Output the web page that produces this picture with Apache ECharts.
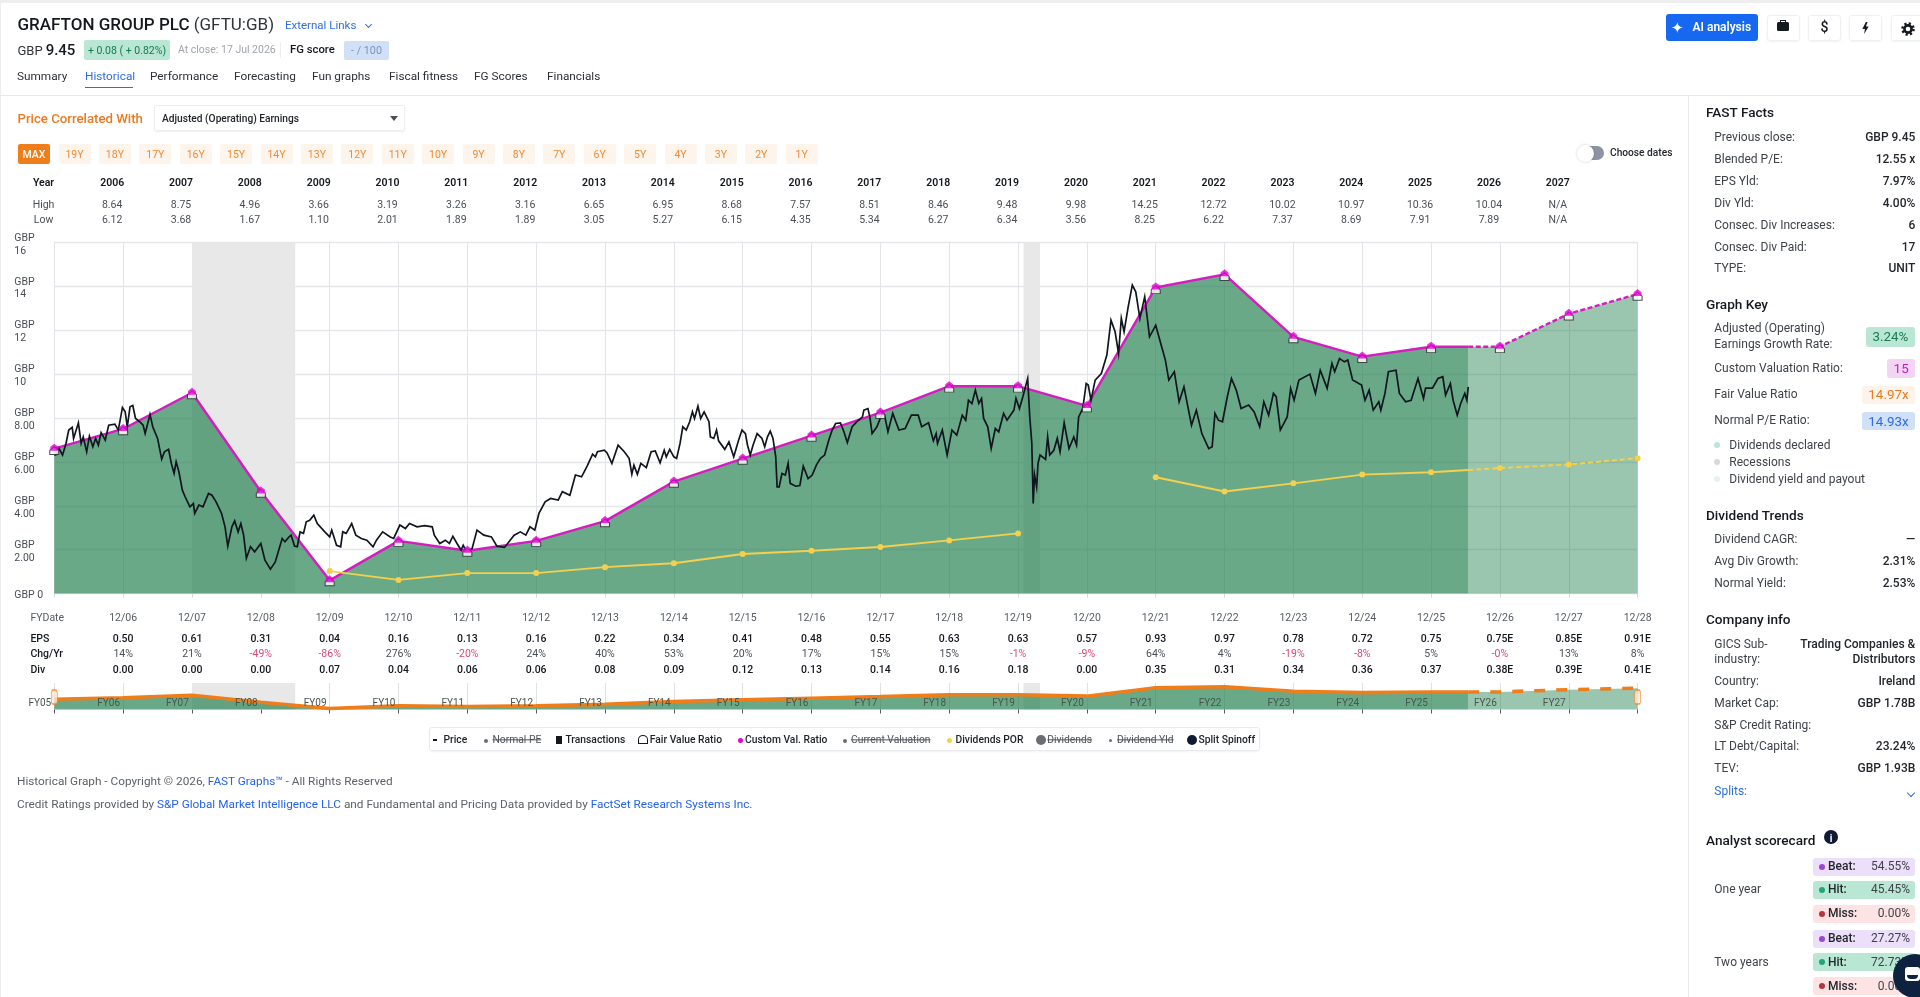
<!DOCTYPE html>
<html><head><meta charset="utf-8"><title>Grafton Group PLC</title>
<style>
html,body{margin:0;padding:0;width:1920px;height:997px;overflow:hidden;background:#fff;font-family:Roboto,sans-serif;color:#1d2129}
#chart{position:absolute;left:0;top:0;width:1920px;height:997px}
#ui{position:absolute;left:0;top:0;width:1920px;height:997px;pointer-events:none}
.t{position:absolute;white-space:nowrap;transform:translateY(-50%);line-height:1.1}
.b{position:absolute;box-sizing:border-box}
a{color:#2563eb;text-decoration:none}
</style></head><body>
<div id="chart"></div><div id="ui"></div>
<script src="https://cdn.jsdelivr.net/npm/echarts@6/dist/echarts.min.js"></script>
<script>
// ---------- data ----------
const fyYears=[2005,2006,2007,2008,2009,2010,2011,2012,2013,2014,2015,2016,2017,2018,2019,2020,2021,2022,2023,2024,2025,2026,2027,2028];
const customValuation=[6.60,7.50,9.15,4.65,0.60,2.40,1.95,2.40,3.30,5.10,6.15,7.20,8.25,9.45,9.45,8.55,13.95,14.55,11.70,10.80,11.25,11.25,12.75,13.65];
const fairValue=[6.59,7.49,9.13,4.64,0.60,2.40,1.95,2.40,3.29,5.09,6.14,7.19,8.23,9.43,9.43,8.53,13.92,14.52,11.68,10.78,11.23,11.23,12.72,13.62];
const lastActualYear=2025.54;
const lastActualValue=11.25;
const lastActualDiv=5.63;
const divYearsA=[2009,2010,2011,2012,2013,2014,2015,2016,2017,2018,2019];
const divValuesA=[1.02,0.62,0.93,0.93,1.20,1.38,1.80,1.95,2.12,2.42,2.74];
const divYearsB=[2021,2022,2023,2024,2025];
const divValuesB=[5.30,4.65,5.02,5.42,5.53];
const divYearsF=[2026,2027,2028];
const divValuesF=[5.72,5.88,6.17];
const recessions=[[2007,2008.5],[2019.08,2019.32]];
const price=[[2005.00,6.31],[2005.04,6.35],[2005.07,6.61],[2005.12,6.31],[2005.17,6.84],[2005.21,7.45],[2005.26,7.57],[2005.28,7.07],[2005.35,7.78],[2005.39,6.84],[2005.42,7.14],[2005.47,6.46],[2005.51,7.17],[2005.56,6.69],[2005.60,7.07],[2005.64,6.76],[2005.68,7.33],[2005.74,6.99],[2005.79,7.67],[2005.88,7.72],[2005.93,7.45],[2005.99,8.48],[2006.03,8.28],[2006.06,7.60],[2006.10,8.51],[2006.14,8.57],[2006.18,7.98],[2006.24,7.83],[2006.29,7.67],[2006.32,7.29],[2006.39,8.16],[2006.43,7.60],[2006.50,7.07],[2006.56,6.12],[2006.60,6.46],[2006.66,6.57],[2006.70,5.93],[2006.74,5.47],[2006.77,6.00],[2006.81,5.55],[2006.86,4.71],[2006.90,4.41],[2006.97,3.95],[2007.02,4.10],[2007.04,3.65],[2007.10,4.03],[2007.16,3.95],[2007.24,4.56],[2007.29,4.48],[2007.35,4.18],[2007.43,3.65],[2007.48,3.04],[2007.52,2.16],[2007.58,3.04],[2007.62,3.31],[2007.67,2.81],[2007.71,3.19],[2007.75,2.66],[2007.79,1.60],[2007.85,2.13],[2007.91,1.90],[2008.00,2.28],[2008.06,1.52],[2008.14,1.11],[2008.21,1.44],[2008.31,2.51],[2008.35,2.36],[2008.41,2.58],[2008.44,2.66],[2008.49,2.16],[2008.53,2.13],[2008.57,2.81],[2008.62,2.74],[2008.66,3.27],[2008.71,3.34],[2008.77,3.57],[2008.82,3.19],[2008.93,2.81],[2009.00,2.58],[2009.03,2.89],[2009.10,2.20],[2009.16,2.13],[2009.19,2.81],[2009.24,2.74],[2009.32,3.19],[2009.38,2.66],[2009.46,2.51],[2009.54,2.43],[2009.63,2.13],[2009.68,2.43],[2009.77,2.81],[2009.88,2.58],[2009.93,2.51],[2010.02,3.12],[2010.10,2.96],[2010.16,3.19],[2010.27,3.04],[2010.38,3.09],[2010.49,3.04],[2010.52,2.66],[2010.60,2.28],[2010.68,2.43],[2010.74,2.28],[2010.79,2.61],[2010.85,2.28],[2010.91,1.98],[2010.94,2.20],[2010.99,1.90],[2011.07,2.05],[2011.14,2.89],[2011.24,2.66],[2011.35,2.58],[2011.43,2.16],[2011.54,2.10],[2011.68,2.66],[2011.77,2.81],[2011.85,2.66],[2011.91,3.04],[2011.98,2.89],[2012.04,3.65],[2012.13,4.18],[2012.21,4.33],[2012.32,4.26],[2012.38,4.64],[2012.49,4.48],[2012.57,5.40],[2012.66,5.32],
[2012.74,5.81],[2012.82,6.35],[2012.86,6.23],[2012.89,6.46],[2012.99,6.53],[2013.03,6.41],[2013.10,5.93],[2013.19,6.76],[2013.28,6.46],[2013.35,6.16],[2013.39,5.44],[2013.42,5.85],[2013.47,5.43],[2013.52,5.93],[2013.60,5.74],[2013.67,6.46],[2013.73,6.50],[2013.80,5.96],[2013.86,6.53],[2013.89,6.23],[2013.94,6.57],[2014.00,6.23],[2014.04,6.16],[2014.09,6.84],[2014.13,7.60],[2014.18,7.45],[2014.23,7.83],[2014.27,8.28],[2014.30,7.98],[2014.35,8.54],[2014.39,7.98],[2014.44,8.28],[2014.51,7.83],[2014.53,7.14],[2014.58,7.07],[2014.62,7.45],[2014.65,6.96],[2014.74,6.57],[2014.80,6.91],[2014.87,6.23],[2014.94,6.99],[2014.99,7.45],[2015.04,7.29],[2015.07,6.76],[2015.11,6.31],[2015.15,6.76],[2015.21,7.29],[2015.28,7.07],[2015.32,6.69],[2015.36,7.14],[2015.40,7.40],[2015.44,7.07],[2015.48,6.23],[2015.50,4.86],[2015.53,4.86],[2015.57,5.47],[2015.62,5.40],[2015.66,5.93],[2015.69,5.02],[2015.77,4.89],[2015.83,4.92],[2015.88,5.81],[2015.95,5.24],[2016.01,5.40],[2016.07,5.85],[2016.13,6.16],[2016.19,6.31],[2016.25,6.99],[2016.30,7.45],[2016.35,7.75],[2016.42,7.78],[2016.47,7.37],[2016.52,6.88],[2016.59,7.60],[2016.66,7.83],[2016.74,8.05],[2016.76,8.36],[2016.82,8.43],[2016.85,7.98],[2016.88,7.29],[2016.95,7.60],[2017.03,8.24],[2017.06,8.13],[2017.11,7.37],[2017.18,8.21],[2017.27,7.45],[2017.36,7.52],[2017.45,8.13],[2017.55,8.13],[2017.60,7.60],[2017.70,7.78],[2017.77,6.96],[2017.81,7.29],[2017.83,6.84],[2017.90,7.45],[2017.97,6.31],[2018.04,7.45],[2018.11,7.22],[2018.19,8.13],[2018.24,7.90],[2018.28,8.81],[2018.33,8.66],[2018.38,9.27],[2018.43,8.66],[2018.47,8.89],[2018.50,7.98],[2018.56,7.60],[2018.61,6.61],[2018.67,7.52],[2018.72,7.37],[2018.79,8.21],[2018.84,7.90],[2018.94,8.36],[2018.97,8.89],[2019.02,8.43],[2019.07,8.97],[2019.14,9.80],[2019.17,8.05],[2019.20,6.84],[2019.22,4.10],[2019.24,5.40],[2019.27,4.86],[2019.29,5.93],[2019.32,6.31],[2019.40,6.11],[2019.43,7.14],[2019.46,6.31],[2019.52,6.53],[2019.57,7.07],[2019.61,6.46],[2019.67,7.78],[2019.74,6.61],[2019.81,7.14],[2019.85,6.76],[2019.88,8.05],[2019.94,8.43],[2019.99,9.57],
[2020.02,9.50],[2020.06,8.81],[2020.12,9.73],[2020.21,10.03],[2020.29,10.87],[2020.35,12.46],[2020.41,11.93],[2020.46,10.94],[2020.50,12.54],[2020.54,11.93],[2020.60,13.07],[2020.66,14.06],[2020.71,13.75],[2020.77,12.54],[2020.84,13.53],[2020.91,11.70],[2021.00,12.23],[2021.08,11.32],[2021.14,10.64],[2021.19,9.73],[2021.27,10.11],[2021.34,8.74],[2021.41,9.42],[2021.52,7.67],[2021.59,8.36],[2021.67,7.29],[2021.77,6.61],[2021.82,6.69],[2021.86,8.21],[2021.91,7.90],[2021.97,7.83],[2022.04,8.97],[2022.10,9.80],[2022.17,9.27],[2022.24,8.43],[2022.35,8.59],[2022.43,8.28],[2022.51,7.60],[2022.57,8.74],[2022.64,8.13],[2022.71,9.12],[2022.75,8.97],[2022.81,7.45],[2022.91,8.05],[2022.96,9.35],[2023.01,8.81],[2023.08,9.73],[2023.24,10.00],[2023.32,9.12],[2023.39,10.18],[2023.49,9.35],[2023.56,10.49],[2023.60,10.11],[2023.67,10.71],[2023.74,10.56],[2023.79,10.64],[2023.86,9.73],[2023.99,9.50],[2024.04,8.81],[2024.10,9.27],[2024.16,8.36],[2024.24,8.74],[2024.27,8.36],[2024.33,9.12],[2024.38,10.11],[2024.49,10.18],[2024.54,9.12],[2024.63,8.74],[2024.71,8.81],[2024.81,9.80],[2024.89,8.89],[2024.92,9.36],[2025.02,9.36],[2025.10,9.80],[2025.17,9.88],[2025.21,9.04],[2025.28,9.57],[2025.32,8.81],[2025.38,8.13],[2025.43,8.66],[2025.49,9.12],[2025.52,8.81],[2025.54,9.42]];
const tableYears=['2006','2007','2008','2009','2010','2011','2012','2013','2014','2015','2016','2017','2018','2019','2020','2021','2022','2023','2024','2025','2026','2027'];
const highs=['8.64','8.75','4.96','3.66','3.19','3.26','3.16','6.65','6.95','8.68','7.57','8.51','8.46','9.48','9.98','14.25','12.72','10.02','10.97','10.36','10.04','N/A'];
const lows=['6.12','3.68','1.67','1.10','2.01','1.89','1.89','3.05','5.27','6.15','4.35','5.34','6.27','6.34','3.56','8.25','6.22','7.37','8.69','7.91','7.89','N/A'];
const fyDates=['12/06','12/07','12/08','12/09','12/10','12/11','12/12','12/13','12/14','12/15','12/16','12/17','12/18','12/19','12/20','12/21','12/22','12/23','12/24','12/25','12/26','12/27','12/28'];
const epsRow=['0.50','0.61','0.31','0.04','0.16','0.13','0.16','0.22','0.34','0.41','0.48','0.55','0.63','0.63','0.57','0.93','0.97','0.78','0.72','0.75','0.75E','0.85E','0.91E'];
const chgRow=['14%','21%','-49%','-86%','276%','-20%','24%','40%','53%','20%','17%','15%','15%','-1%','-9%','64%','4%','-19%','-8%','5%','-0%','13%','8%'];
const divRow=['0.00','0.00','0.00','0.07','0.04','0.06','0.06','0.08','0.09','0.12','0.13','0.14','0.16','0.18','0.00','0.35','0.31','0.34','0.36','0.37','0.38E','0.39E','0.41E'];
const navLabels=['FY05','FY06','FY07','FY08','FY09','FY10','FY11','FY12','FY13','FY14','FY15','FY16','FY17','FY18','FY19','FY20','FY21','FY22','FY23','FY24','FY25','FY26','FY27'];
const yTicks={0:['GBP 0'],2:['GBP','2.00'],4:['GBP','4.00'],6:['GBP','6.00'],8:['GBP','8.00'],10:['GBP','10'],12:['GBP','12'],14:['GBP','14'],16:['GBP','16']};
const navHandleYears=[2005,2028];
const rangeButtons=['19Y','18Y','17Y','16Y','15Y','14Y','13Y','12Y','11Y','10Y','9Y','8Y','7Y','6Y','5Y','4Y','3Y','2Y','1Y'];
const tabs=[['Summary',17],['Historical',85],['Performance',150],['Forecasting',234],['Fun graphs',312],['Fiscal fitness',389],['FG Scores',474],['Financials',547]];

// ---------- chart ----------
const font='Roboto';
const G={left:54.3,width:1583.3,top:242.5,height:351};
const histEnd=fyYears.filter(y=>y<=2025);
const histPts=histEnd.map(y=>[y,customValuation[fyYears.indexOf(y)]]).concat([[lastActualYear,lastActualValue]]);
const foreYears=fyYears.filter(y=>y>2025);
const forePts=[[lastActualYear,lastActualValue]].concat(foreYears.map(y=>[y,customValuation[fyYears.indexOf(y)]]));
const GREEN='#22804f',PINK='#d61cc0',ORANGE='#ef7d1a',YEL='#f4d04e';
const baseX={type:'value',min:2005,max:2028,interval:1};
function rowAxis(position,offset,arr,first,style){
  return Object.assign({},baseX,{gridIndex:0,position,offset,axisLine:{show:false},axisTick:{show:false},splitLine:{show:false},
    axisLabel:Object.assign({show:true,margin:0,verticalAlign:'middle',fontFamily:font,fontSize:10.5,hideOverlap:false,showMinLabel:true,showMaxLabel:true,
      formatter:v=>{const s=arr[Math.round(v)-first];return s===undefined?'':s;}},style)});
}
const xAxes=[
 Object.assign({},baseX,{gridIndex:0,position:'bottom',axisLine:{show:false},
   axisTick:{show:true,length:4,lineStyle:{color:'#d5d8dc'}},
   splitLine:{show:true,lineStyle:{color:'#e2e4e8',width:1}},
   axisLabel:{show:false}}),
 rowAxis('bottom',24.6,fyDates,2006,{color:'#555b63'}),
 rowAxis('bottom',46.2,epsRow,2006,{color:'#14181f',fontWeight:500}),
 rowAxis('bottom',61.2,chgRow,2006,{color:v=>String(chgRow[Math.round(v)-2006]).startsWith('-')?'#d8487a':'#4a4f57'}),
 rowAxis('bottom',76.6,divRow,2006,{color:'#14181f',fontWeight:500}),
 rowAxis('top',58.8,tableYears,2006,{color:'#14181f',fontWeight:600,padding:[0,22,0,0]}),
 rowAxis('top',37.5,highs,2006,{color:'#4a4f57',padding:[0,22,0,0]}),
 rowAxis('top',22.2,lows,2006,{color:'#4a4f57',padding:[0,22,0,0]}),
 Object.assign({},baseX,{gridIndex:1,position:'bottom',axisLine:{show:false},
   axisTick:{show:true,length:4,lineStyle:{color:'#55595f'}},
   splitLine:{show:true,lineStyle:{color:'#dfe1e5'}},axisLabel:{show:false}}),
 Object.assign({},baseX,{gridIndex:1,position:'bottom',z:10,axisLine:{show:false},axisTick:{show:false},splitLine:{show:false},
   axisLabel:{show:true,inside:true,margin:1,fontFamily:font,fontSize:10,color:'#47564e',padding:[0,29,0,0],
     formatter:v=>{const s=navLabels[Math.round(v)-2005];return s===undefined?'':s;}}})
];
const recArea=recessions.map(r=>[{xAxis:r[0]},{xAxis:r[1]}]);
const pts=(ys,vs)=>ys.map((y,i)=>[y,vs[i]]);
const option={
 animation:false,
 grid:[Object.assign({},G),{left:G.left,width:G.width,top:683,height:26.5}],
 xAxis:xAxes,
 yAxis:[
  {type:'value',gridIndex:0,min:0,max:16,interval:2,axisLine:{show:false},axisTick:{show:false},
   splitLine:{show:true,lineStyle:{color:'#e5e6e9',width:1.3}},
   axisLabel:{align:'left',margin:40,fontFamily:font,fontSize:10.5,color:'#4a4f57',
     rich:{s:{fontSize:2,lineHeight:4},n:{fontFamily:font,fontSize:10.5,lineHeight:12.8,color:'#4a4f57'}},
     formatter:v=>{const l=yTicks[v];return l?'{s| }\n'+l.map(x=>`{n|${x}}`).join('\n'):'';}}},
  {type:'value',gridIndex:1,min:0,max:17,show:false}
 ],
 series:[
  {type:'line',xAxisIndex:0,yAxisIndex:0,data:[],z:1,silent:true,markArea:{silent:true,itemStyle:{color:'#e8e8e9'},data:recArea}},
  {type:'line',name:'Custom Val. Ratio',xAxisIndex:0,yAxisIndex:0,data:histPts,z:2,showSymbol:false,lineStyle:{color:PINK,width:2.4},areaStyle:{color:GREEN,opacity:.68}},
  {type:'line',name:'Custom forecast',xAxisIndex:0,yAxisIndex:0,data:forePts,z:2,showSymbol:false,lineStyle:{color:PINK,width:2.4,type:[5,2.5]},areaStyle:{color:GREEN,opacity:.46}},
  {type:'line',name:'Dividends POR',xAxisIndex:0,yAxisIndex:0,data:pts(divYearsA,divValuesA),z:3,symbol:'circle',symbolSize:6,showAllSymbol:true,lineStyle:{color:YEL,width:1.9},itemStyle:{color:YEL}},
  {type:'line',name:'Dividends POR 2',xAxisIndex:0,yAxisIndex:0,data:pts(divYearsB,divValuesB).concat([{value:[lastActualYear,lastActualDiv],symbol:'none'}]),z:3,symbol:'circle',symbolSize:6,showAllSymbol:true,lineStyle:{color:YEL,width:1.9},itemStyle:{color:YEL}},
  {type:'line',name:'Dividends POR forecast',xAxisIndex:0,yAxisIndex:0,data:[{value:[lastActualYear,lastActualDiv],symbol:'none'}].concat(pts(divYearsF,divValuesF)),z:3,symbol:'circle',symbolSize:6,showAllSymbol:true,lineStyle:{color:YEL,width:1.9,type:[5,3]},itemStyle:{color:YEL}},
  {type:'line',name:'Price',xAxisIndex:0,yAxisIndex:0,data:price,z:4,showSymbol:false,lineStyle:{color:'#10151f',width:1.7,join:'miter'}},
  {type:'scatter',name:'Fair Value Ratio',xAxisIndex:0,yAxisIndex:0,data:pts(fyYears,fairValue),z:5,clip:false,symbol:'path://M0,5 L5,0 L10,5 L10,10 L0,10 Z',symbolSize:[9,8],symbolOffset:[0,1.5],itemStyle:{color:'#fff',borderColor:'#23262b',borderWidth:1}},
  {type:'scatter',name:'Custom marker',xAxisIndex:0,yAxisIndex:0,data:pts(fyYears,customValuation),z:6,clip:false,symbol:'path://M0,4 L5,0 L10,4 L10,9 L0,9 Z',symbolSize:[8,7],symbolOffset:[0,-1.5],itemStyle:{color:'#e400d4'}},
  {type:'line',xAxisIndex:8,yAxisIndex:1,data:[],z:1,silent:true,markArea:{silent:true,itemStyle:{color:'#e8e8e9'},data:recArea}},
  {type:'line',name:'nav hist',xAxisIndex:8,yAxisIndex:1,data:histPts,z:2,showSymbol:false,lineStyle:{color:ORANGE,width:3.6},areaStyle:{color:GREEN,opacity:.68}},
  {type:'line',name:'nav forecast',xAxisIndex:8,yAxisIndex:1,data:forePts,z:2,showSymbol:false,lineStyle:{color:ORANGE,width:3.6,type:[11,11]},areaStyle:{color:GREEN,opacity:.46}},
  {type:'scatter',name:'nav handles',xAxisIndex:8,yAxisIndex:1,data:navHandleYears.map(y=>[y,8]),z:6,clip:false,symbol:'roundRect',symbolSize:[6,14],itemStyle:{color:'#fde6d2',borderColor:ORANGE,borderWidth:1}}
 ],
 graphic:[
  ['Year',43.5,183.7,'center','#14181f',600],['High',43.5,205,'center','#4a4f57',400],['Low',43.5,220.3,'center','#4a4f57',400],
  ['FYDate',30.4,618,'left','#555b63',400],['EPS',30.4,639.8,'left','#14181f',500],['Chg/Yr',30.4,654.8,'left','#14181f',500],['Div',30.4,670,'left','#14181f',500]
 ].map(r=>({type:'text',x:r[1],y:r[2],style:{text:r[0],x:0,y:0,align:r[3],verticalAlign:'middle',font:`${r[5]} 10.5px Roboto`,fill:r[4]}}))
};
echarts.init(document.getElementById('chart'),null,{renderer:'canvas'}).setOption(option);

// ---------- page furniture ----------
const ui=document.getElementById('ui');
function box(x,y,w,h,css){const d=document.createElement('div');d.className='b';d.style.cssText=`left:${x}px;top:${y}px;width:${w}px;height:${h}px;${css||''}`;ui.appendChild(d);return d;}
function txt(x,y,s,css){const d=document.createElement('div');d.className='t';d.style.cssText=`left:${x}px;top:${y+.7}px;font-size:12px;${css||''}`;d.innerHTML=s;ui.appendChild(d);return d;}
function rtxt(rx,y,s,css){return txt(0,y,s,`left:auto;right:${1920-rx}px;${css||''}`);}
function ctxt(x,y,w,s,css){return txt(x,y,s,`width:${w}px;text-align:center;${css||''}`);}
box(0,0,1920,3,'background:#eeeeef');
box(0,3,1,994,'background:#eeeeef');
box(0,95,1920,1,'background:#e7e9ed');
box(1688,95,1,902,'background:#e7e9ed');
// title
txt(17.5,23.5,'<span style="font-weight:500;color:#14181f">GRAFTON GROUP PLC</span> <span style="color:#30343a">(GFTU:GB)</span>','font-size:17px');
txt(285,24.5,'External Links','color:#2f6fdc;font-size:11.5px');
box(366,21.5,5,5,'border-right:1.3px solid #2f6fdc;border-bottom:1.3px solid #2f6fdc;transform:rotate(45deg)');
txt(17.5,49.7,'<span style="font-size:13px;color:#30343a">GBP</span> <span style="font-size:15px;font-weight:500;color:#14181f">9.45</span>');
box(84,40,86,20,'background:#b9e7d4;border-radius:2px');
ctxt(84,50,86,'+ 0.08 ( + 0.82%)','font-size:10.5px;color:#157a52');
txt(178,49.7,'At close: 17 Jul 2026','font-size:10.5px;color:#a0a5ac');
box(280,42,1,16,'background:#eceef0');
txt(290,49.7,'FG score','font-size:11.3px;font-weight:500;color:#14181f');
box(344,41,45,19,'background:#d1e0f6;border-radius:2px');
ctxt(344,50,45,'- / 100','font-size:10.8px;color:#7a93bd');
tabs.forEach((t,i)=>txt(t[1],75,t[0],`font-size:11.8px;color:${i==1?'#2f6fdc':'#2c3036'}`));
box(85,86.5,48,1.6,'background:#2f6fdc');
txt(17.5,118,'Price Correlated With','font-size:13.2px;font-weight:500;color:#ea7a1f');
box(154,105,251,26,'border:1px solid #eceef0;border-radius:2px;box-shadow:0 1px 2px rgba(0,0,0,.06)');
txt(162,118,'Adjusted (Operating) Earnings','font-size:10.2px;font-weight:500;color:#23272d');
box(390,116,0,0,'border-left:4px solid transparent;border-right:4px solid transparent;border-top:5px solid #4a4f57');
box(18,144,32,20,'background:#ef7d1a;border-radius:2px');
ctxt(18,153.8,32,'MAX','font-size:10.5px;font-weight:500;color:#fff');
rangeButtons.forEach((b,i)=>{const cx=74.5+i*40.4;box(cx-16,144,32,20,'background:#fdf4ec;border-radius:2px');ctxt(cx-16,153.8,32,b,'font-size:10.5px;color:#ef8a35');});
box(1578,146,26,14,'background:#8d93a5;border-radius:7px');
box(1577,144.5,17,17,'background:#fff;border-radius:50%;box-shadow:0 0 3px rgba(0,0,0,.2)');
txt(1610,152.5,'Choose dates','font-size:10.2px;font-weight:500;color:#23272d');
// top right
box(1666,14,92,27,'background:#1768f0;border-radius:3px');
txt(1671,27.5,'&#10022;','font-size:15px;color:#fff');
txt(1692.5,27.3,'AI analysis','font-size:12px;font-weight:600;color:#fff');
[1767,1808,1849,1891].forEach(x=>box(x,15,33,26,'border:1px solid #eff0f2;border-radius:3px;box-shadow:0 1px 2px rgba(0,0,0,.05)'));
box(1777,22,12,9,'background:#14181f;border-radius:1.5px');box(1780,20,6,3,'border:1.4px solid #14181f;border-bottom:none');
ctxt(1808,27.5,33,'$','font-size:14px;font-weight:500;color:#14181f');
box(1862,22,7,12,'background:#14181f;clip-path:polygon(55% 0,5% 58%,42% 58%,30% 100%,95% 38%,55% 38%,80% 0)');
box(1901,21,14,14,'').innerHTML='<svg width="14" height="14" viewBox="0 0 14 14"><circle cx="7" cy="7" r="5.6" fill="none" stroke="#14181f" stroke-width="2.4" stroke-dasharray="2.2 2.2"/><circle cx="7" cy="7" r="3.6" fill="none" stroke="#14181f" stroke-width="2.6"/></svg>';
// legend
box(429,727,831,24,'border:1px solid #e9eaed;border-radius:3px;box-shadow:0 1px 2px rgba(0,0,0,.05)');
const LG='font-size:10.3px;font-weight:500;color:#1d2129';const LS='font-size:10.3px;color:#4e535a;text-decoration:line-through';
box(433,739,4,2,'background:#14181f');txt(443.5,739.6,'Price',LG);
box(484,738.5,4,4,'background:#6a6e74;border-radius:50%');txt(492.5,739.6,'Normal PE',LS);
box(556,735.5,6,8,'background:#14181f');txt(565.4,739.6,'Transactions',LG);
box(638,735,10,9,'border:1.2px solid #14181f;border-radius:50% 50% 0 0');txt(649.8,739.6,'Fair Value Ratio',LG);
box(737.5,738,5,5,'background:#e400d4;border-radius:50%');txt(745,739.6,'Custom Val. Ratio',LG);
box(843,738.5,4,4,'background:#6a6e74;border-radius:50%');txt(851,739.6,'Current Valuation',LS);
box(946.5,738,5,5,'background:#f4d04e;border-radius:50%');txt(955.5,739.6,'Dividends POR',LG);
box(1036,735,10,10,'background:#6a6e74;border-radius:50%');txt(1047.3,739.6,'Dividends',LS);
box(1109,738.5,3,3,'background:#6a6e74;border-radius:50%');txt(1117,739.6,'Dividend Yld',LS);
box(1187,735,10,10,'background:#101a33;border-radius:50%');txt(1198.4,739.6,'Split Spinoff',LG);
// footer
txt(17,780.5,'Historical Graph - Copyright © 2026, <a>FAST Graphs™</a> - All Rights Reserved','font-size:11.8px;color:#5c6269');
txt(17,803.5,'Credit Ratings provided by <a>S&amp;P Global Market Intelligence LLC</a> and Fundamental and Pricing Data provided by <a>FactSet Research Systems Inc.</a>','font-size:11.8px;color:#5c6269');
// right panel
const LBL='font-size:12px;color:#3e434a';const VAL='font-size:12px;font-weight:500;color:#23272d';const HD='font-size:13.6px;font-weight:500;color:#14181f';
txt(1706,111.5,'FAST Facts',HD);
[['Previous close:','GBP 9.45',137.5],['Blended P/E:','12.55 x',159],['EPS Yld:','7.97%',181],['Div Yld:','4.00%',203],['Consec. Div Increases:','6',225],['Consec. Div Paid:','17',247],['TYPE:','UNIT',268.5],
 ['Dividend CAGR:','—',539.2],['Avg Div Growth:','2.31%',560.8],['Normal Yield:','2.53%',582.8],
 ['Country:','Ireland',681],['Market Cap:','GBP 1.78B',703],['S&amp;P Credit Rating:','',725],['LT Debt/Capital:','23.24%',746.7],['TEV:','GBP 1.93B',768.3]
].forEach(r=>{txt(1714.3,r[2],r[0],LBL);rtxt(1915.3,r[2],r[1],VAL);});
txt(1706,303.5,'Graph Key',HD);
txt(1714.3,328.6,'Adjusted (Operating)',LBL);txt(1714.3,344,'Earnings Growth Rate:',LBL);
txt(1714.3,368,'Custom Valuation Ratio:',LBL);txt(1714.3,394.6,'Fair Value Ratio',LBL);txt(1714.3,420.6,'Normal P/E Ratio:',LBL);
[[1865.7,327,49.6,19.5,'#b9e7d4','#1a7a55','3.24%'],[1887,359,28.3,18.7,'#f3d4f3','#c81cc8','15'],[1861.7,385.7,53.6,18.3,'#fdf3ea','#ea7a1f','14.97x'],[1861.7,411.7,53.6,18.6,'#cfe0f8','#2f6bdc','14.93x']].forEach(b=>{
 box(b[0],b[1],b[2],b[3],`background:${b[4]};border-radius:3px`);ctxt(b[0],b[1]+b[3]/2-.2,b[2],b[6],`font-size:13.4px;color:${b[5]}`);});
[['Dividends declared',445,'#b9e7d4'],['Recessions',462,'#d8d8dc'],['Dividend yield and payout',478.8,'#e3f3ec']].forEach(r=>{box(1714,r[1]-3,6,6,`background:${r[2]};border-radius:50%`);txt(1729.3,r[1],r[0],LBL);});
txt(1706,514.2,'Dividend Trends',HD);
txt(1706,618.5,'Company info',HD);
txt(1714.3,644,'GICS Sub-',LBL);txt(1714.3,659,'industry:',LBL);
rtxt(1915.3,644,'Trading Companies &amp;',VAL);rtxt(1915.3,659,'Distributors',VAL);
txt(1714.3,791.5,'Splits:','font-size:12px;color:#2f6fdc');
box(1907.5,790,6,6,'border-right:1.6px solid #2f6fdc;border-bottom:1.6px solid #2f6fdc;transform:rotate(45deg)');
txt(1706,839.5,'Analyst scorecard',HD);
box(1824,830,14,14,'background:#101a33;border-radius:50%');ctxt(1824,837,14,'i','font-size:10px;font-weight:700;color:#fff');
txt(1714.3,889.5,'One year',LBL);txt(1714.3,962.3,'Two years',LBL);
[['Beat:','54.55%',857.7,'#ecdffa','#9b45d9'],['Hit:','45.45%',881,'#b9e7d4','#22a679'],['Miss:','0.00%',904.7,'#fde3e3','#b8323a'],['Beat:','27.27%',930,'#ecdffa','#9b45d9'],['Hit:','72.73%',953.3,'#b9e7d4','#22a679'],['Miss:','0.00%',977.3,'#fde3e3','#b8323a']].forEach(r=>{
 box(1813.3,r[2],102,18,`background:${r[3]};border-radius:3px`);box(1818.5,r[2]+6,6,6,`background:${r[4]};border-radius:50%`);
 txt(1828,r[2]+8.6,r[0],'font-size:12px;font-weight:500;color:#23272d');rtxt(1910,r[2]+8.6,r[1],'font-size:12px;color:#3e434a');});
box(1893,954,44,44,'background:#0e2240;border-radius:50%');
box(1905,967,15,14,'background:#fff;border-radius:3px 3px 3px 3px');
box(1907,975,11,4,'background:#0e2240;border-radius:0 0 6px 6px');
</script></body></html>
